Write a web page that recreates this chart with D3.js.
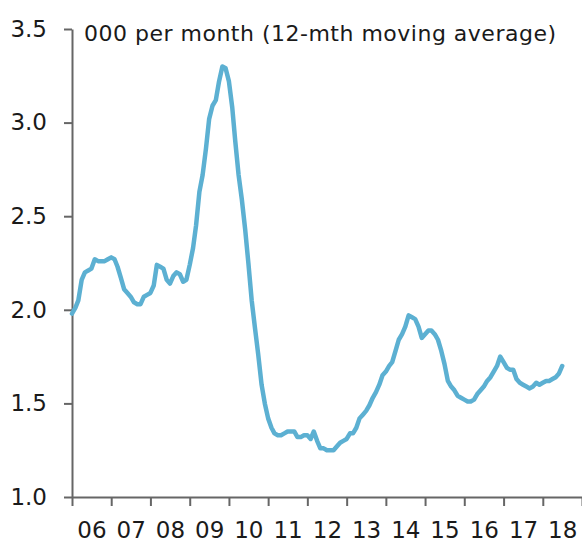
<!DOCTYPE html>
<html>
<head>
<meta charset="utf-8">
<script src="https://cdn.jsdelivr.net/npm/d3@7"></script>
<style>
    html, body { margin: 0; padding: 0; background: #fff; }
    svg { display: block; font-family: "DejaVu Sans", sans-serif; }
</style>
</head>
<body>
<div id="chart"></div>
<script>
(function () {
    "use strict";

    // chart data
    var title = '000 per month (12-mth moving average)';
    var startYear = 2006;
    var yearLabels = ['06', '07', '08', '09', '10', '11', '12', '13', '14', '15', '16', '17', '18'];
    var yTicks = [1.0, 1.5, 2.0, 2.5, 3.0, 3.5];
    // monthly values, Jan 2006 .. Jul 2018
    var values = [
        1.98, 2.01, 2.05, 2.16, 2.20, 2.21, 2.22, 2.27, 2.26, 2.26, 2.26, 2.27,
        2.28, 2.27, 2.23, 2.17, 2.11, 2.09, 2.07, 2.04, 2.03, 2.03, 2.07, 2.08,
        2.09, 2.13, 2.24, 2.23, 2.22, 2.16, 2.14, 2.18, 2.20, 2.19, 2.15, 2.16,
        2.24, 2.33, 2.45, 2.63, 2.72, 2.86, 3.02, 3.09, 3.12, 3.22, 3.30, 3.29,
        3.22, 3.08, 2.90, 2.72, 2.59, 2.43, 2.25, 2.05, 1.90, 1.76, 1.60, 1.50,
        1.42, 1.37, 1.34, 1.33, 1.33, 1.34, 1.35, 1.35, 1.35, 1.32, 1.32, 1.33,
        1.33, 1.31, 1.35, 1.30, 1.26, 1.26, 1.25, 1.25, 1.25, 1.27, 1.29, 1.30,
        1.31, 1.34, 1.34, 1.37, 1.42, 1.44, 1.46, 1.49, 1.53, 1.56, 1.60, 1.65,
        1.67, 1.70, 1.72, 1.78, 1.84, 1.87, 1.91, 1.97, 1.96, 1.95, 1.91, 1.85,
        1.87, 1.89, 1.89, 1.87, 1.84, 1.78, 1.71, 1.62, 1.59, 1.57, 1.54, 1.53,
        1.52, 1.51, 1.51, 1.52, 1.55, 1.57, 1.59, 1.62, 1.64, 1.67, 1.70, 1.75,
        1.72, 1.69, 1.68, 1.68, 1.63, 1.61, 1.60, 1.59, 1.58, 1.59, 1.61, 1.60,
        1.61, 1.62, 1.62, 1.63, 1.64, 1.66, 1.70
    ];

    var width = 582,
        height = 542,
        lineColor = '#5cb0d2',
        axisColor = '#666',
        textColor = '#1a1a1a';

    var data = values.map(function (v, i) {
        return { date: new Date(startYear, i, 1), value: v };
    });

    var yearStarts = d3.range(yearLabels.length + 1).map(function (i) {
        return new Date(startYear + i, 0, 1);
    });
    var yearMids = yearLabels.map(function (d, i) {
        return new Date(startYear + i, 6, 1);
    });

    var x = d3.scaleTime()
        .domain([yearStarts[0], yearStarts[yearStarts.length - 1]])
        .range([72, 582]);
    var y = d3.scaleLinear()
        .domain([1, 3.5])
        .range([497, 29]);

    var svg = d3.select('#chart').append('svg')
        .attr('width', width)
        .attr('height', height);

    // y axis
    var yAxis = svg.append('g')
        .attr('transform', 'translate(72,0)')
        .call(d3.axisLeft(y).tickValues(yTicks).tickFormat(d3.format('.1f'))
            .tickSize(8).tickSizeOuter(0).tickPadding(17));

    // x axis: year boundary ticks
    var xAxis = svg.append('g')
        .attr('transform', 'translate(0,497)')
        .call(d3.axisBottom(x).tickValues(yearStarts).tickFormat('')
            .tickSize(9).tickSizeOuter(0));

    // x axis: year labels centred in each year
    var xLabels = svg.append('g')
        .attr('transform', 'translate(0,497)')
        .call(d3.axisBottom(x).tickValues(yearMids)
            .tickFormat(function (d, i) { return yearLabels[i]; })
            .tickSize(0).tickPadding(25));
    xLabels.select('.domain').remove();

    [yAxis, xAxis].forEach(function (g) {
        g.selectAll('.domain, line').attr('stroke', axisColor).attr('stroke-width', 2);
    });
    [yAxis, xLabels].forEach(function (g) {
        g.selectAll('text')
            .attr('fill', textColor)
            .style('font-size', '23px')
            .style('font-family', '"DejaVu Sans", sans-serif');
    });

    // title inside the plot
    svg.append('text')
        .attr('x', 84)
        .attr('y', 41)
        .attr('fill', textColor)
        .style('font-size', '22px')
        .style('letter-spacing', '0.5px')
        .text(title);

    // the series
    var line = d3.line()
        .x(function (d) { return x(d.date); })
        .y(function (d) { return y(d.value); });

    svg.append('path')
        .datum(data)
        .attr('d', line)
        .attr('fill', 'none')
        .attr('stroke', lineColor)
        .attr('stroke-width', 4.5)
        .attr('stroke-linejoin', 'round')
        .attr('stroke-linecap', 'round');
}());
</script>
</body>
</html>
